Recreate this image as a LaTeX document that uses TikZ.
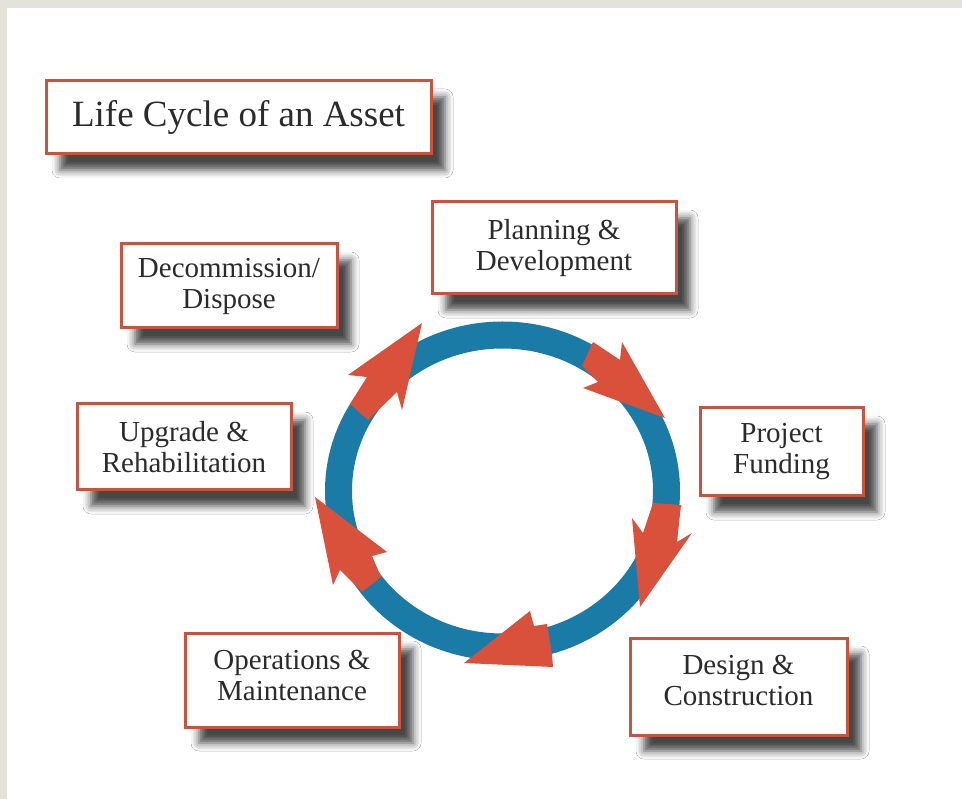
\documentclass[tikz,border=0pt]{standalone}
\usepackage{fontspec}
\setmainfont{Liberation Serif}
\usetikzlibrary{shadows.blur}
\definecolor{ringblue}{HTML}{1B7BA7}
\definecolor{arrowred}{HTML}{D9503B}
\definecolor{boxred}{HTML}{C9533F}
\definecolor{bggray}{HTML}{E3E3DB}
\definecolor{txt}{HTML}{2B2B2B}
\newcommand{\lowpad}[1]{\rule[-#1]{0pt}{0pt}}
\tikzset{
  stagebox/.style={draw=boxred, line width=3pt, fill=white, text=txt, align=center,
    inner sep=0pt, font=\fontsize{29}{31}\selectfont,
    blur shadow={shadow xshift=14pt, shadow yshift=-16pt, shadow blur radius=8pt, shadow opacity=72}},
  titlebox/.style={stagebox, font=\fontsize{37}{40}\selectfont},
  ringarrow/.style={fill=arrowred, draw=none},
}
\begin{document}
\begin{tikzpicture}[x=1pt, y=-1pt]
\useasboundingbox (0,0) rectangle (962,799);
\fill[bggray] (0,0) rectangle (962,799);
\fill[white] (7,8) rectangle (962,799);

% ring
\draw[ringblue, line width=27pt] (502.5,491) ellipse [x radius=164pt, y radius=156pt];

% arrows on the ring
\fill[ringarrow] (593,342) -- (620,360) -- (622,342) -- (665,418) -- (583,388) -- (598,382) -- (582,366) -- cycle;
\fill[ringarrow] (681,505) -- (677,542) -- (692,533) -- (640,607) -- (632,518) -- (643,533) -- (653,503) -- cycle;
\fill[ringarrow] (552,655) -- (553,667) -- (464,663) -- (530,611) -- (534,626) -- (547,624) -- cycle;
\fill[ringarrow] (362,592) -- (340,570) -- (333,585) -- (315,497) -- (387,552) -- (372,556) -- (381,577) -- cycle;
\fill[ringarrow] (350,404) -- (367,377) -- (348,375) -- (422,323) -- (402,410) -- (397,392) -- (368,420) -- cycle;

% boxes
\node[titlebox, minimum width=385pt, minimum height=73pt] (title) at (238.5,117.5) {Life Cycle of an Asset};
\node[stagebox, minimum width=244pt, minimum height=92pt] (plan) at (554,248) {Planning \&\\Development\lowpad{2pt}};
\node[stagebox, minimum width=216pt, minimum height=84pt] (decom) at (229,286) {Decommission/\\Dispose};
\node[stagebox, minimum width=163pt, minimum height=88pt] (fund) at (781.5,452) {Project\\Funding};
\node[stagebox, minimum width=214pt, minimum height=86pt] (upg) at (184,447) {Upgrade \&\\Rehabilitation};
\node[stagebox, minimum width=214pt, minimum height=94pt] (ops) at (292,680) {Operations \&\\Maintenance\lowpad{10pt}};
\node[stagebox, minimum width=217pt, minimum height=97pt] (design) at (738.5,686.5) {Design \&\\Construction\lowpad{13pt}};
\end{tikzpicture}
\end{document}
